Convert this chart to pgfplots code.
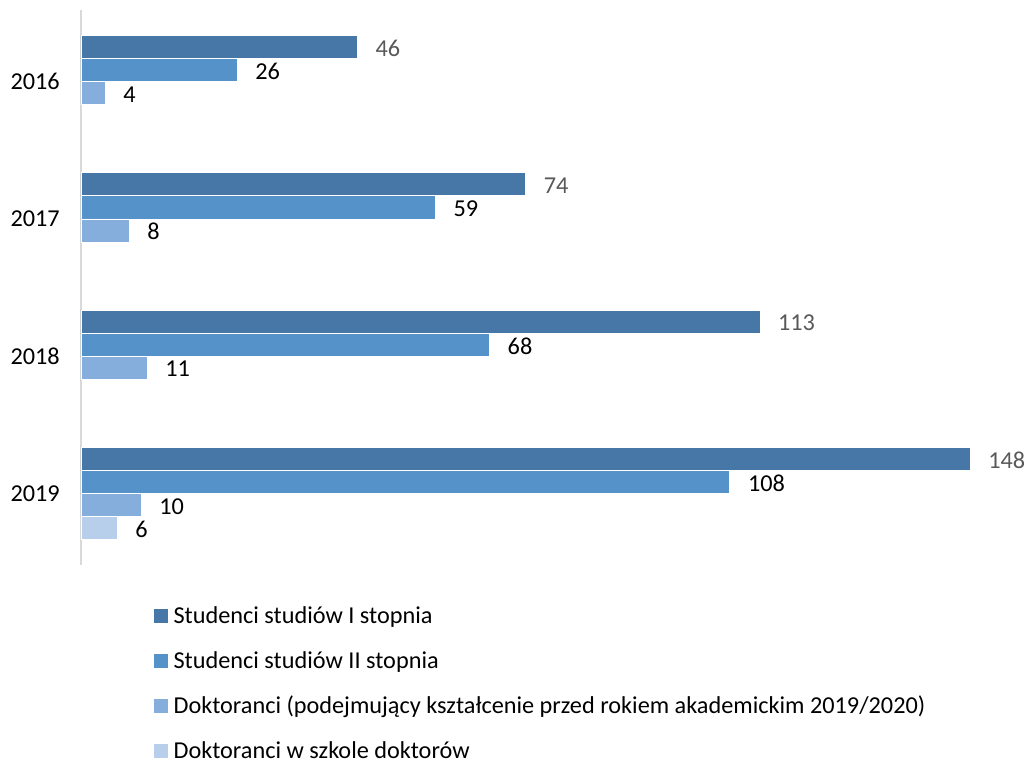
\documentclass[border=0pt]{standalone}
\usepackage{pgfplots}
\pgfplotsset{compat=1.18}
\usepackage{fontspec}
\setmainfont{Carlito}

\definecolor{sA}{HTML}{4677A7}
\definecolor{sB}{HTML}{5592C9}
\definecolor{sC}{HTML}{86AEDC}
\definecolor{sD}{HTML}{B7CFEA}
\definecolor{lblgray}{HTML}{595959}

\newcommand{\chartfont}{\fontsize{18.2}{22}\selectfont}

\pgfplotsset{
  sqlegend/.style={legend image code/.code={
    \fill[##1, draw=none] (0pt,-5.25pt) rectangle (10.5pt,5.25pt);}},
}

\begin{document}
\begin{tikzpicture}
\useasboundingbox (0,0) rectangle (768.75pt,568.5pt);
\begin{axis}[
    at={(60.75pt,144.75pt)}, anchor=south west,
    scale only axis, width=666.75pt, height=416.25pt,
    xmin=0, xmax=148, ymin=-0.52, ymax=3.52,
    y dir=reverse,
    xbar, bar width=0.168, bar shift=0pt,
    axis x line=none, axis y line=left,
    y axis line style={draw=black!15, line width=1.2pt, -},
    ytick={0,1,2,3},
    yticklabels={2016,2017,2018,2019},
    major tick length=0pt,
    yticklabel style={font=\chartfont, inner sep=0pt, xshift=-15.75pt},
    clip=false,
    point meta=x,
    nodes near coords,
    every node near coord/.append style={anchor=west, inner sep=0pt,
        xshift=13.5pt, yshift=-1pt, font=\chartfont, text=black,
        /pgf/number format/assume math mode=true},
    legend style={at={(0,0)}, anchor=north west, xshift=54.75pt, yshift=-30.5pt,
        draw=none, fill=none, inner sep=0pt, row sep=18.7pt, column sep=4pt,
        font=\chartfont,
        nodes={inner sep=0pt, text height=13pt, text depth=2pt}},
    legend cell align=left,
]
% Studenci studiow I stopnia
\addplot[fill=sA, draw=white, line width=0.4pt, sqlegend,
    every node near coord/.append style={text=lblgray}]
    coordinates {(46,-0.252) (74,0.748) (113,1.748) (148,2.748)};
% Studenci studiow II stopnia
\addplot[fill=sB, draw=white, line width=0.4pt, sqlegend]
    coordinates {(26,-0.084) (59,0.916) (68,1.916) (108,2.916)};
% Doktoranci (przed 2019/2020)
\addplot[fill=sC, draw=white, line width=0.4pt, sqlegend]
    coordinates {(4,0.084) (8,1.084) (11,2.084) (10,3.084)};
% Doktoranci w szkole doktorow
\addplot[fill=sD, draw=white, line width=0.4pt, sqlegend]
    coordinates {(6,3.252)};
\legend{Studenci studiów I stopnia,
        Studenci studiów II stopnia,
        Doktoranci (podejmujący kształcenie przed rokiem akademickim 2019/2020),
        Doktoranci w szkole doktorów}
\end{axis}
\end{tikzpicture}
\end{document}
